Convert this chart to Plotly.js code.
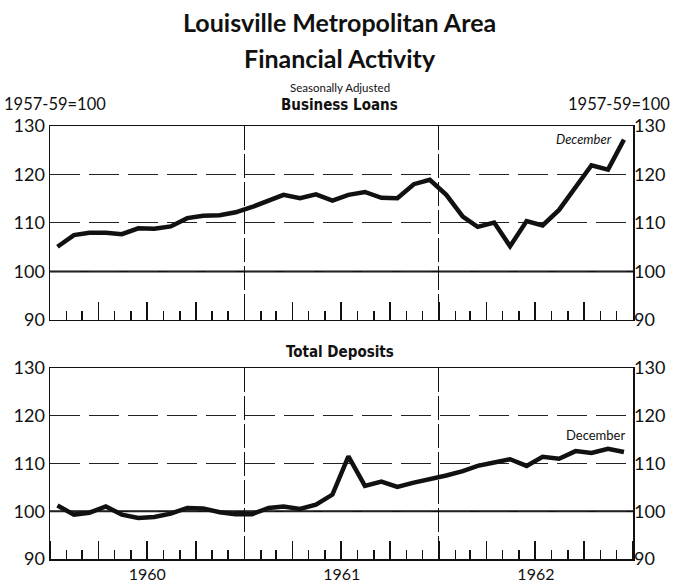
<!DOCTYPE html>
<html>
<head>
<meta charset="utf-8">
<script src="https://cdn.plot.ly/plotly-3.0.1.min.js"></script>
<style>html,body{margin:0;padding:0;background:#fff;}#chart{width:675px;height:583px;}</style>
</head>
<body>
<div id="chart"></div>
<script>
// ---- Data (index, 1957-59 = 100), monthly, Jan 1960 .. Dec 1962 ----
const years = [1960, 1961, 1962];
const monthNums = ['01','02','03','04','05','06','07','08','09','10','11','12'];
const months = [];
years.forEach(y => monthNums.forEach(m => months.push(y + '-' + m + '-15')));

const businessLoans = [
  105.1, 107.5, 108.0, 108.0, 107.7, 108.9, 108.8, 109.3, 111.0, 111.5, 111.6, 112.2,
  113.3, 114.6, 115.8, 115.1, 115.9, 114.6, 115.8, 116.4, 115.2, 115.1, 118.0, 118.9,
  115.8, 111.3, 109.2, 110.1, 105.2, 110.4, 109.5, 112.7, 117.4, 121.9, 121.0, 127.2
];
const totalDeposits = [
  101.2, 99.3, 99.7, 101.0, 99.3, 98.6, 98.8, 99.5, 100.7, 100.6, 99.8, 99.4,
  99.4, 100.7, 101.0, 100.5, 101.4, 103.5, 111.5, 105.3, 106.2, 105.1, 106.0, 106.7,
  107.5, 108.4, 109.5, 110.2, 110.9, 109.5, 111.4, 111.0, 112.6, 112.2, 113.1, 112.4
];
const yTicks = [90, 100, 110, 120, 130];
const baseIndex = 100;
const xRange = ['1960-01-01', '1963-01-01'];

const ink = '#111';
const numFont = {family: 'Lato, "Open Sans", sans-serif', size: 18, color: ink};
const yearFont = {family: 'Lato, "Open Sans", sans-serif', size: 16, color: ink};
const baseFont = {family: 'Lato, "Open Sans", sans-serif', size: 16.5, color: ink};
const condFont = {family: '"Liberation Sans Narrow", "DejaVu Sans Condensed", Roboto, sans-serif', size: 15, color: ink, weight: 700};

function mainX(extra) {
  return Object.assign({
    type: 'date', range: xRange, tickmode: 'linear', tick0: '1960-01-01', dtick: 'M12',
    ticks: 'inside', ticklen: 18, tickwidth: 1.5, tickcolor: ink,
    showgrid: true, gridcolor: ink, gridwidth: 1, griddash: '24px,4px',
    showline: true, mirror: true, linecolor: ink, linewidth: 1.5, zeroline: false,
    minor: {tickmode: 'linear', tick0: '1960-01-01', dtick: 'M1', ticks: 'inside', ticklen: 9, tickwidth: 1.5, tickcolor: ink, showgrid: false},
    fixedrange: true
  }, extra);
}
function quarterX(extra) {
  return Object.assign({
    type: 'date', range: xRange, tickmode: 'linear', tick0: '1960-01-01', dtick: 'M3',
    ticks: 'inside', ticklen: 18, tickwidth: 1.5, tickcolor: ink,
    showticklabels: false, showgrid: false, showline: false, zeroline: false, fixedrange: true
  }, extra);
}
function leftY(extra) {
  return Object.assign({
    range: [90, 130], tickvals: yTicks, ticks: '', tickfont: numFont,
    showgrid: true, gridcolor: '#222', gridwidth: 1, griddash: '30px,9px',
    showline: true, mirror: true, linecolor: ink, linewidth: 1.5, zeroline: false, fixedrange: true
  }, extra);
}
function rightY(extra) {
  return Object.assign({
    range: [90, 130], tickvals: yTicks, ticks: '', tickfont: numFont, side: 'right',
    showgrid: false, showline: false, zeroline: false, fixedrange: true
  }, extra);
}

const lineStyle = {color: ink, width: 4.5};
const traces = [
  {x: months, y: businessLoans, xaxis: 'x', yaxis: 'y', mode: 'lines', line: lineStyle, hoverinfo: 'skip'},
  {x: months, y: totalDeposits, xaxis: 'x2', yaxis: 'y2', mode: 'lines', line: lineStyle, hoverinfo: 'skip'},
  {x: [], y: [], xaxis: 'x3', yaxis: 'y3', mode: 'lines', hoverinfo: 'skip'},
  {x: [], y: [], xaxis: 'x4', yaxis: 'y4', mode: 'lines', hoverinfo: 'skip'}
];

const titleFont = {family: 'Lato, "Open Sans", sans-serif', size: 25, color: ink, weight: 700};
const layout = {
  width: 675, height: 583,
  margin: {l: 50, r: 42, t: 126, b: 24},
  paper_bgcolor: '#fff', plot_bgcolor: '#fff',
  showlegend: false,
  xaxis: mainX({domain: [0, 1], anchor: 'y', showticklabels: false}),
  xaxis2: mainX({domain: [0, 1], anchor: 'y2', showticklabels: true, ticklabelmode: 'period', tickformat: '%Y', tickfont: yearFont}),
  xaxis3: quarterX({overlaying: 'x', anchor: 'y'}),
  xaxis4: quarterX({overlaying: 'x2', anchor: 'y2'}),
  yaxis: leftY({domain: [0.552, 1], anchor: 'x'}),
  yaxis2: leftY({domain: [0, 0.441], anchor: 'x2'}),
  yaxis3: rightY({overlaying: 'y', anchor: 'x'}),
  yaxis4: rightY({overlaying: 'y2', anchor: 'x2'}),
  shapes: [
    {type: 'line', xref: 'paper', x0: 0, x1: 1, yref: 'y', y0: baseIndex, y1: baseIndex, line: {color: ink, width: 2}, layer: 'below'},
    {type: 'line', xref: 'paper', x0: 0, x1: 1, yref: 'y2', y0: baseIndex, y1: baseIndex, line: {color: ink, width: 2}, layer: 'below'}
  ],
  annotations: [
    {text: 'Louisville Metropolitan Area', xref: 'paper', yref: 'paper', x: 0.497, y: 1.240, xanchor: 'center', yanchor: 'middle', showarrow: false, font: titleFont},
    {text: 'Financial Activity', xref: 'paper', yref: 'paper', x: 0.497, y: 1.157, xanchor: 'center', yanchor: 'middle', showarrow: false, font: titleFont},
    {text: 'Seasonally Adjusted', xref: 'paper', yref: 'paper', x: 0.497, y: 1.090, xanchor: 'center', yanchor: 'middle', showarrow: false, font: {family: 'Lato, sans-serif', size: 11.5, color: ink}},
    {text: '1957-59=100', xref: 'paper', yref: 'paper', x: -0.082, y: 1.050, xanchor: 'left', yanchor: 'middle', showarrow: false, font: baseFont},
    {text: '1957-59=100', xref: 'paper', yref: 'paper', x: 1.067, y: 1.050, xanchor: 'right', yanchor: 'middle', showarrow: false, font: baseFont},
    {text: 'Business Loans', xref: 'paper', yref: 'paper', x: 0.497, y: 1.048, xanchor: 'center', yanchor: 'middle', showarrow: false, font: condFont},
    {text: 'Total Deposits', xref: 'paper', yref: 'paper', x: 0.497, y: 0.478, xanchor: 'center', yanchor: 'middle', showarrow: false, font: condFont},
    {text: 'December', xref: 'paper', yref: 'paper', x: 0.967, y: 0.970, xanchor: 'right', yanchor: 'middle', showarrow: false, font: {family: 'Lato, sans-serif', size: 13, color: ink, style: 'italic'}},
    {text: 'December', xref: 'paper', yref: 'paper', x: 0.990, y: 0.286, xanchor: 'right', yanchor: 'middle', showarrow: false, font: {family: 'Lato, sans-serif', size: 13, color: ink}}
  ]
};

Plotly.newPlot('chart', traces, layout, {staticPlot: true, displayModeBar: false});
</script>
</body>
</html>
